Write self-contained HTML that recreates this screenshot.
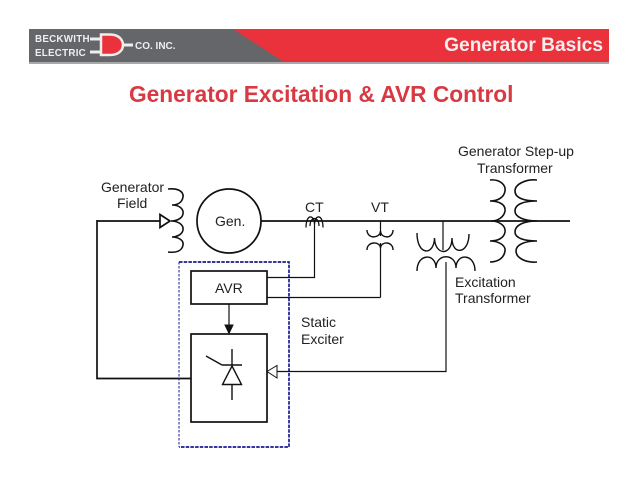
<!DOCTYPE html>
<html>
<head>
<meta charset="utf-8">
<style>
html,body{margin:0;padding:0;background:#fff;width:638px;height:493px;overflow:hidden}
svg{display:block}
text{font-family:"Liberation Sans",sans-serif}
.l{font-size:14px;fill:#222}
</style>
</head>
<body>
<svg width="638" height="493" viewBox="0 0 638 493" xmlns="http://www.w3.org/2000/svg">
<rect x="29" y="61" width="580" height="3" fill="#a9a9ab"/>
<rect x="29" y="29" width="580" height="33" fill="#646669"/>
<polygon points="233,29 609,29 609,61.500 283,61.500" fill="#e9323c"/>
<text x="35" y="42" font-size="9.800" font-weight="bold" fill="#eee" letter-spacing=".25">BECKWITH</text>
<text x="35" y="56" font-size="9.800" font-weight="bold" fill="#eee" letter-spacing=".25">ELECTRIC</text>
<path d="M90,39H102M90,52H102M123,45H133" stroke="#eee" stroke-width="3" fill="none"/>
<path d="M101,34.500H110C119,34.500 123,40 123,45C123,50 119,55 110,55H101Z" fill="#e9323c" stroke="#eee" stroke-width="2.500"/>
<text x="135" y="49" font-size="10" font-weight="bold" fill="#eee">CO. INC.</text>
<text x="603" y="51" text-anchor="end" font-size="19.200" font-weight="bold" fill="#f6eeee">Generator Basics</text>
<text x="129" y="102" font-size="22.700" font-weight="bold" fill="#d73a42">Generator Excitation &amp; AVR Control</text>

<g fill="none" stroke="#111">
<!-- dashed static exciter -->
<path d="M179,262V447" stroke="#1a1a96" stroke-width="1" stroke-dasharray="2.500 1.500"/>
<path d="M179,262H289V447H179" stroke="#1a1a96" stroke-width="1.700" stroke-dasharray="3.500 1.200"/>
<!-- main lines -->
<path d="M261,221H570" stroke-width="1.700"/>
<circle cx="229" cy="221" r="32" fill="#fff" stroke-width="1.700"/>
<path d="M97,221H161M97,220V378.500H191" stroke-width="1.700"/>
<path d="M168,189C177,188 184,191 183,197C182,203 177,205 172,205C178,205 184,208 183,214C182,219 176,221 171,221C177,221 184,224 183,230C182,235 176,237 172,237C178,237 184,240 183,245C182,251 176,253 168,252" stroke-width="1.600"/>
<polygon points="160,214.500 170,221 160,227.500" fill="#fff" stroke-width="1.700"/>
<!-- boxes -->
<rect x="191" y="271" width="76" height="33" fill="#fff" stroke-width="1.700"/>
<rect x="191" y="334" width="76" height="88" fill="#fff" stroke-width="1.700"/>
<!-- CT -->
<path d="M306,227.500C306,214 314,214 314.500,224C315,214 323,214 323,227.500" stroke-width="1.300"/>
<path d="M310,226C310,216 319,216 319,226" stroke-width="1.300"/>
<path d="M314.500,221V277.500H267M380.500,297.500H267M380.500,221V236M380.500,243V297.500" stroke-width="1.200"/>
<!-- VT -->
<path d="M367,230C367,239 380,239 380.500,231C381,239 393,239 393,230" stroke-width="1.400"/>
<path d="M367,250C367,241 380,241 380.500,248C381,241 393,241 393,250" stroke-width="1.400"/>
<!-- Excitation transformer -->
<path d="M443,221V250" stroke-width="1.200"/>
<path d="M417,233C417,256 434,256 434.500,238C435,256 452,256 452,238C452,256 469,254 469,234" stroke-width="1.400"/>
<path d="M417,271C417,253 436,253 436,268C436,253 456,253 456,268C456,253 475,253 475,271" stroke-width="1.400"/>
<path d="M446,262V371.500H277" stroke-width="1.200"/>
<polygon points="267,371.500 277,365.500 277,378" fill="#fff" stroke-width="1"/>
<!-- GSU -->
<path d="M490,180C500,179 506,185 505,191C504,198 497,201 490,201C498,201 506,204 505,211C504,217 498,221 491,221C498,221 506,225 505,232C504,238 498,241 490,241C498,241 506,245 505,251C504,258 498,262 490,262" stroke-width="1.600"/>
<path d="M537,180C526,179 515,184 515,191C515,198 524,201 537,201C524,201 515,204 515,211C515,217 524,221 537,221C524,221 515,225 515,232C515,238 524,241 537,241C524,241 516,245 516,251C516,258 526,263 537,262" stroke-width="1.600"/>
<!-- AVR to exciter -->
<path d="M229,304V326" stroke-width="1.200"/>
<polygon points="225,325 233,325 229,333.500" fill="#111" stroke-width="1"/>
<!-- thyristor -->
<path d="M232,349V366M232,385V400M222,365H242M222,365L206,356" stroke-width="1.400"/>
<polygon points="232,366 241.500,384.500 222.500,384.500" stroke-width="1.400"/>
</g>
<text class="l" x="101" y="192">Generator</text>
<text class="l" x="117" y="208">Field</text>
<text class="l" x="215" y="226">Gen.</text>
<text class="l" x="305" y="212">CT</text>
<text class="l" x="371" y="212">VT</text>
<text class="l" x="215" y="293">AVR</text>
<text class="l" x="301" y="327">Static</text>
<text class="l" x="301" y="344">Exciter</text>
<text class="l" x="455" y="287">Excitation</text>
<text class="l" x="455" y="303">Transformer</text>
<text class="l" x="458" y="156">Generator Step-up</text>
<text class="l" x="477" y="173">Transformer</text>
</svg>
</body>
</html>
